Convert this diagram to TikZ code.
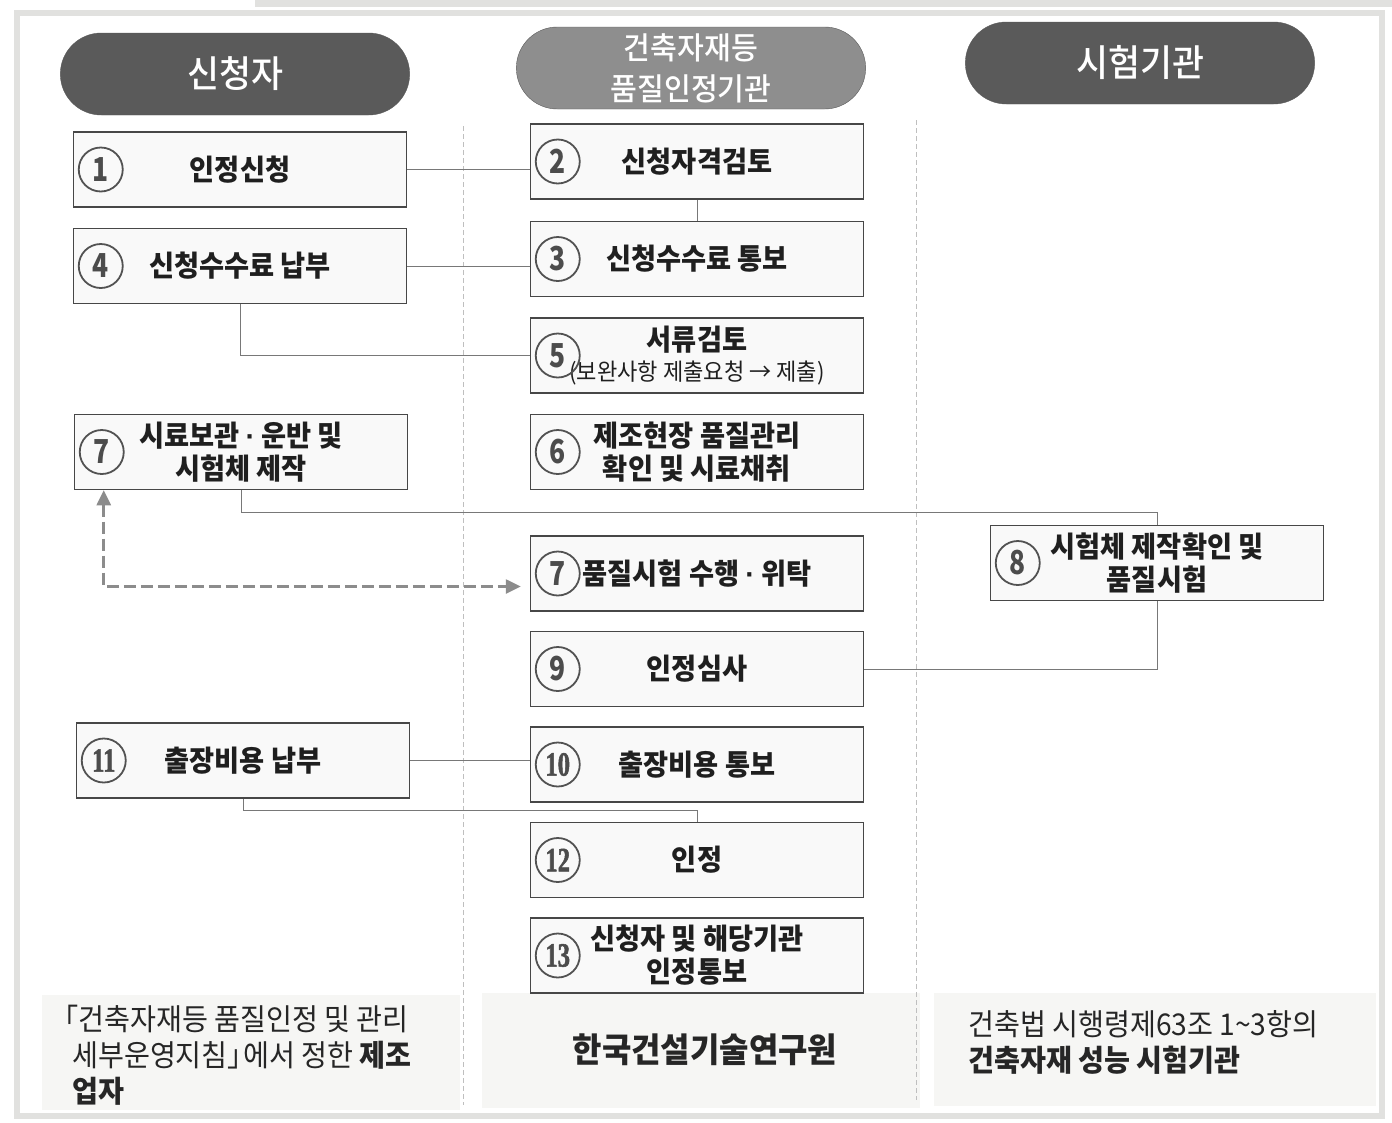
\documentclass[tikz,border=0pt]{standalone}
\usepackage{fontspec}
\setmainfont{Noto Sans CJK KR}
\newfontfamily\cjkfont{Noto Sans CJK KR}[FakeStretch=0.94]
\newfontfamily\headfont{Noto Sans CJK KR Medium}[FakeStretch=0.94]
\newfontfamily\numfont{Noto Sans CJK KR}[FakeStretch=0.8]
\newfontfamily\numtwofont{Liberation Serif}[FakeStretch=0.72,
  BoldFeatures={FakeBold=1.5}]
\newfontfamily\latinfont{Liberation Sans}
\usetikzlibrary{
  shapes.misc,
  positioning,
  calc,
  arrows.meta}
\definecolor{headcolor}{RGB}{90,90,90}
\definecolor{certcolor}{RGB}{142,142,142}
\definecolor{boxcolor}{RGB}{249,249,249}
\definecolor{linecolor}{RGB}{120,120,120}
\definecolor{framecolor}{RGB}{225,225,223}
\definecolor{panelcolor}{RGB}{246,246,244}
\newcommand{\middot}{{\latinfont\textperiodcentered}}
\tikzset{
  %% header : pill-shaped heading of a column
  header/.style={
    rounded rectangle,
    draw=black!65,
    fill=headcolor,
    text=white,
    minimum width=356pt,
    minimum height=82pt,
    align=center,
    font=\headfont\fontsize{37}{41}\selectfont
  },
  %% procbox : one step of the procedure
  procbox/.style={
    rectangle,
    draw=black!72,
    line width=1.5pt,
    fill=boxcolor,
    text=black!88,
    minimum width=333pt,
    minimum height=75pt,
    inner sep=2pt,
    align=center,
    font=\cjkfont\fontsize{29}{33}\selectfont\bfseries
  },
  %% stepno : circled number of a step
  stepno/.style={
    circle,
    draw=black!68,
    line width=1.8pt,
    minimum size=44pt,
    inner sep=0pt,
    text=black!70,
    font=\numfont\fontsize{33}{33}\selectfont\bfseries
  },
  %% link : thin connection between steps
  link/.style={linecolor, line width=0.8pt},
  %% testlink : dashed two-way arrow between sample and test
  testlink/.style={
    black!45,
    line width=2.6pt,
    dash pattern=on 12pt off 5pt,
    {Triangle[length=15pt,width=14pt]}-{Triangle[length=15pt,width=14pt]}
  },
  %% colsep : dashed separator between the columns
  colsep/.style={black!25, line width=0.6pt, dash pattern=on 5pt off 3pt},
  %% note : description under a column
  note/.style={
    inner sep=0pt,
    text=black!85,
    align=left,
    font=\cjkfont\fontsize{30}{36}\selectfont
  }
}

\begin{document}
\begin{tikzpicture}
  [x=1pt,
  y=-1pt,
  node distance=20pt]

  \useasboundingbox (0,0) rectangle (1392,1122);

  %% Page frame
  \fill [framecolor] (255,0) rectangle (1392,7);
  \draw [framecolor, line width=6pt] (17,13) rectangle (1382,1116);
  \fill [panelcolor] (42,995) rectangle (460,1110);
  \fill [panelcolor] (482,993) rectangle (920,1108);
  \fill [panelcolor] (934,993) rectangle (1376,1106);

  %% Column separators
  \draw [colsep] (463,126) -- (463,1105);
  \draw [colsep] (916,120) -- (916,1100);

  %% Headers
  \node (happlicant) [header] at (235,74) {신청자};
  \node (hcert) [header, fill=certcolor,
    font=\headfont\fontsize{31}{41}\selectfont] at (691,68) {%
    건축자재등\\품질인정기관
  };
  \node (hlab) [header] at (1140,63) {시험기관};

  %% Applicant
  \node (step1) [procbox] at (240,169.5) {인정신청};

  \node (step4) [below=of step1, procbox] {신청수수료 납부};

  \node (step7s) [procbox] at (241,452) {%
    시료보관 \middot{} 운반 및\\시험체 제작
  };

  \node (step11) [procbox] at (243,760.5) {출장비용 납부};

  %% Certification body
  \node (step2) [procbox] at (697,161.5) {신청자격검토};

  \node (step3) [below=21pt of step2, procbox] {신청수수료 통보};

  \node (step5) [below=of step3, procbox] {%
    서류검토\\[-3pt]
    {\fontsize{23.5}{26}\selectfont\mdseries (보완사항 제출요청 → 제출)}
  };

  \node (step6) [below=of step5, procbox] {%
    제조현장 품질관리\\확인 및 시료채취
  };

  \node (step7t) [below=45pt of step6, procbox] {품질시험 수행 \middot{} 위탁};

  \node (step9) [below=19pt of step7t, procbox] {인정심사};

  \node (step10) [below=19pt of step9, procbox] {출장비용 통보};

  \node (step12) [below=19pt of step10, procbox] {인정};

  \node (step13) [below=19pt of step12, procbox] {%
    신청자 및 해당기관\\인정통보
  };

  %% Testing body
  \node (step8) [procbox] at (1157,563) {%
    시험체 제작확인 및\\품질시험
  };

  %% Step numbers
  \foreach \s/\n in {step1/1, step2/2, step3/3, step4/4, step5/5, step6/6,
    step7s/7, step7t/7, step8/8, step9/9}
    \node (\s-no) [stepno] at ([xshift=28pt]\s.west) {\n};
  \foreach \s/\n in {step10/10, step11/11, step12/12, step13/13}
    \node (\s-no) [stepno, font=\numtwofont\fontsize{34}{34}\selectfont\bfseries]
      at ([xshift=28pt]\s.west) {\n};

  %% Connections
  \draw [link] (step1.east) -- (step1.east -| step2.west);
  \draw [link] (step2) -- (step3);
  \draw [link] (step4.east) -- (step4.east -| step3.west);
  \draw [link] (step4.south) |- (step5.west);

  \coordinate (split7) at ($(step7s.south)!0.5!(step7t.north)$);
  \draw [link] (step7s.south) |- (split7 -| step8.north) -- (step8.north);
  \draw [link] (step8.south) |- (step9.east);

  \draw [link] (step11.east) -- (step11.east -| step10.west);
  \coordinate (split11) at ($(step11.south)!0.5!(step12.north)$);
  \draw [link] (step11.south) |- (split11 -| step12.north) -- (step12.north);

  %% Sample to quality test
  \draw [testlink] ([xshift=30pt]step7s.south west)
    |- ([xshift=-9pt, yshift=-13pt]step7t.west);

  %% Descriptions
  \node (makerdesc) [note, anchor=west] at (50,1055) {%
    「건축자재등 품질인정 및 관리\\
    \hspace*{22pt}세부운영지침」\kern-13pt 에서 정한 \textbf{제조}\\
    \hspace*{22pt}\textbf{업자}
  };
  \node (kict) [note, font=\cjkfont\fontsize{34}{36}\selectfont\bfseries]
    at (705,1050) {한국건설기술연구원};
  \node (labdesc) [note, anchor=west] at (968,1042) {%
    건축법 시행령제63조 1\char`~3항의\\
    \textbf{건축자재 성능 시험기관}
  };

\end{tikzpicture}
\end{document}
